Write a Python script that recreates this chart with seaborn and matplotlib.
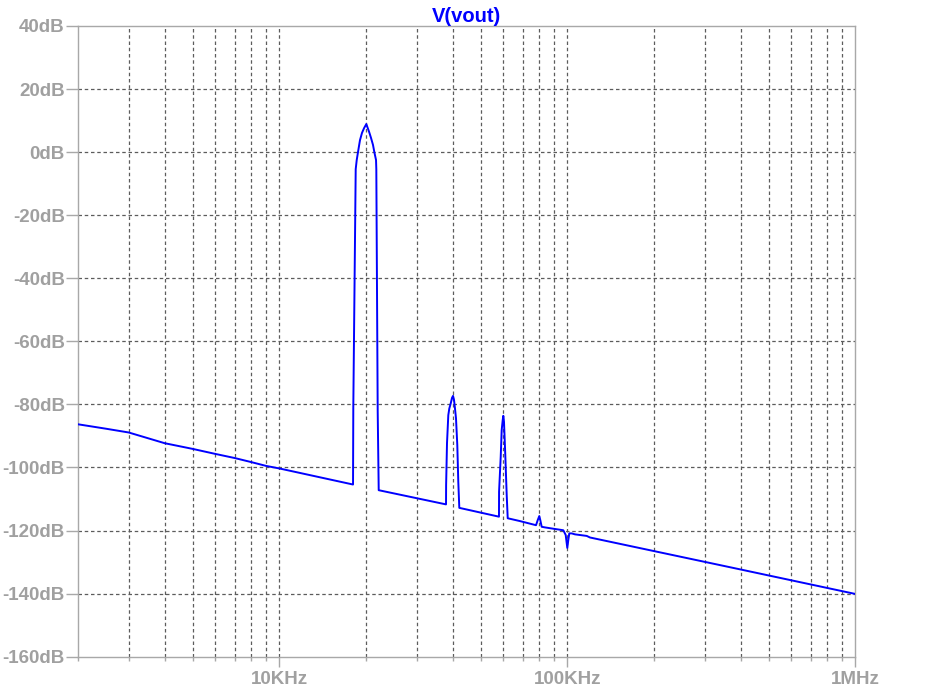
import numpy as np
import matplotlib
matplotlib.use("Agg")
import matplotlib.pyplot as plt
import matplotlib.ticker as mticker
import seaborn as sns

# FFT of V(vout)
freq_hz = [2000, 2500, 3000, 4000, 5000, 6000, 7000, 8000, 9000, 10000, 18030,
           18070, 18420, 18570, 18760, 19060, 19370, 19690, 20050, 20490, 20820,
           21150, 21380, 21670, 21720, 21960, 22140,
           37920, 37950, 38220, 38620, 38930, 39370, 39790, 40110, 40430, 40740,
           41070, 41500, 41830, 42170,
           57910, 57950, 58720, 59180, 59660, 59950, 60280, 60910, 61600, 62100,
           68510, 77870, 78930, 79940, 80580, 81480, 83660, 90650, 96850, 98720,
           100000, 100800, 101600, 103600, 106300, 116800, 119900, 397800, 1000000]
level_db = [-86.3, -87.7, -88.9, -92.3, -94.1, -95.7, -97.0, -98.3, -99.5, -100.3, -105.4,
            -80.8, -5.4, -2.5, 0.0, 3.8, 6.1, 7.6, 8.9, 6.5, 4.5,
            2.3, 0.0, -2.5, -5.4, -82.0, -107.2,
            -111.7, -105.6, -92.3, -83.4, -81.3, -79.7, -77.9, -77.3, -78.6, -81.3,
            -84.4, -92.9, -104.5, -112.8,
            -115.6, -107.7, -96.6, -88.1, -85.0, -83.6, -85.5, -96.1, -108.7, -116.1,
            -117.0, -118.3, -116.7, -115.4, -116.7, -118.8, -119.0, -119.5, -119.9, -121.4,
            -125.5, -123.0, -120.9, -120.9, -121.2, -121.7, -122.2, -132.3, -140.1]

title = "V(vout)"
x_tick_values = [1e4, 1e5, 1e6]
x_tick_labels = ["10KHz", "100KHz", "1MHz"]
y_tick_values = [-160, -140, -120, -100, -80, -60, -40, -20, 0, 20, 40]
y_tick_labels = ["-160dB", "-140dB", "-120dB", "-100dB", "-80dB", "-60dB",
                 "-40dB", "-20dB", "0dB", "20dB", "40dB"]

sns.set_style("white")
plt.rcParams["font.family"] = ["Liberation Sans", "DejaVu Sans"]

label_grey = "#a0a0a0"
frame_grey = "#a8a8a8"
grid_grey = "#5c5c5c"

fig = plt.figure(figsize=(9.44, 6.94), dpi=100)
ax = fig.add_axes([78 / 944, 1 - 656.7 / 694, (855.3 - 78) / 944, (656.7 - 26) / 694])

sns.lineplot(x=freq_hz, y=level_db, ax=ax, color="#0000ff", linewidth=1.4,
             estimator=None, sort=False, zorder=3)

ax.set_xscale("log")
ax.set_xlim(2000, 1e6)
ax.set_ylim(-160, 40)

ax.xaxis.set_major_locator(mticker.FixedLocator(x_tick_values))
ax.xaxis.set_major_formatter(mticker.FixedFormatter(x_tick_labels))
ax.xaxis.set_minor_locator(mticker.LogLocator(base=10, subs=np.arange(2, 10)))
ax.xaxis.set_minor_formatter(mticker.NullFormatter())
ax.yaxis.set_major_locator(mticker.FixedLocator(y_tick_values))
ax.yaxis.set_major_formatter(mticker.FixedFormatter(y_tick_labels))

# dashed grid, skipping lines that sit on the frame
dash = (0, (2.8, 2.2))
xmin, xmax = ax.get_xlim()
xgrid = list(ax.xaxis.get_minorticklocs()) + x_tick_values
for v in xgrid:
    if xmin * 1.001 < v < xmax * 0.999:
        ax.axvline(v, color=grid_grey, lw=0.9, ls=dash, zorder=1)
for v in y_tick_values[1:-1]:
    ax.axhline(v, color=grid_grey, lw=0.9, ls=dash, zorder=1)

for side in ["left", "right", "top", "bottom"]:
    ax.spines[side].set_visible(True)
    ax.spines[side].set_color(frame_grey)
    ax.spines[side].set_linewidth(1.0)

ax.tick_params(axis="y", which="major", length=9, width=1.0, color=frame_grey,
               pad=0.5, labelsize=13.5, labelcolor=label_grey, left=True)
ax.tick_params(axis="x", which="major", length=7.5, width=1.0, color=frame_grey,
               pad=3, labelsize=13.5, labelcolor=label_grey, bottom=True)
ax.tick_params(axis="x", which="minor", length=3, width=1.0, color=frame_grey, bottom=True)
for lab in ax.get_xticklabels() + ax.get_yticklabels():
    lab.set_fontweight("bold")

ax.set_xlabel("")
ax.set_ylabel("")
ax.set_title(title, color="#0000ff", fontsize=14.5, fontweight="bold", pad=3)

fig.savefig("out.png", dpi=100)
